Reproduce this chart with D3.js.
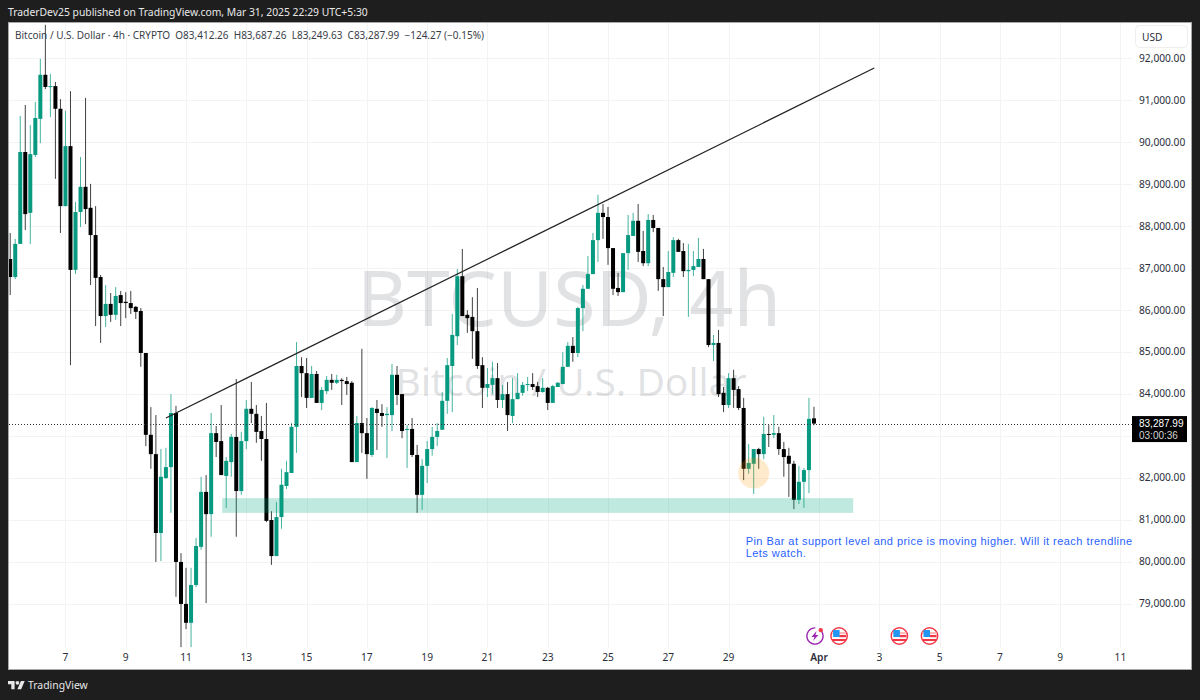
<!DOCTYPE html>
<html>
<head>
<meta charset="utf-8">
<title>BTCUSD 4h</title>
<script src="https://cdn.jsdelivr.net/npm/d3@7/dist/d3.min.js"></script>
<style>
  html, body { margin: 0; padding: 0; background: #1e1e1e; }
  svg { display: block; }
  text { font-family: "Noto Sans", "Open Sans", sans-serif; }
</style>
</head>
<body>
<svg id="chart" width="1200" height="700"></svg>
<script>
// 4h candles, oldest first
const firstBar = Date.UTC(2025, 2, 5, 4);
const opens = [
  87210,86780,87570,89760,88310,89690,90550,91600,91310,91330,
  90790,88470,89900,86950,88330,88930,88430,87780,86780,85850,
  86140,85880,86350,86190,86160,86070,85970,84970,83020,82560,
  80680,81990,82250,83540,79990,78990,78540,79440,80350,81660,
  81130,83060,82870,82040,82370,82970,81680,82870,83640,83520,
  83110,82920,80990,80130,81060,81800,82110,83210,84660,84490,
  83900,84470,83780,84060,84330,84260,84330,84300,84260,82370,
  83300,83060,82540,83640,83540,83490,83490,84450,83990,83140,
  83160,82540,81590,82280,82680,82970,83140,83830,84660,85370,
  86800,85880,85830,85490,84680,84140,84210,84370,83850,83990,
  83470,83870,84020,84210,84230,84180,84040,84140,83780,84160,
  84230,84640,85140,84970,86040,86500,86850,87660,88310,88210,
  87470,86520,86420,87350,87760,88120,87400,87110,88140,87950,
  86730,86540,86880,87660,87400,86920,86950,87020,87210,86730,
  85160,85210,84020,83730,84370,84110,83660,82210,82330,82680,
  82560,83040,83020,83060,82680,82520,82330,81470,81900,82180,83412.26
];
const highs = [
  87830,87690,90620,90880,90400,90950,91980,92790,91620,91430,
  91020,90740,91210,88570,89640,91050,89000,88470,86830,86590,
  86400,86540,86450,86420,86450,86090,86040,84970,83680,83490,
  82680,82710,83990,83710,80200,79850,79850,80560,82020,82060,
  83540,83230,83730,82490,83040,84350,83090,83850,84280,83730,
  83470,83780,81200,81420,82210,82400,83300,85230,84870,84850,
  84660,84540,84160,84420,84470,84450,84370,84400,84300,83470,
  85070,83420,83680,83850,83750,83680,84710,84660,83990,83250,
  83420,82780,82440,82870,83210,83300,84040,84850,85900,86970,
  87450,85990,86300,86520,84870,84610,84760,84730,84210,84280,
  84370,84490,84280,84400,84490,84280,84370,84160,84210,84280,
  84990,85230,85350,86070,86590,87280,87830,88740,88520,88450,
  87470,86880,87350,88260,88310,88520,87880,88280,88260,87950,
  87020,87400,87730,87690,87590,87570,87400,87710,87450,86730,
  85400,85520,84160,84490,84570,84180,83900,82800,82680,82710,
  83450,83250,83490,83210,82850,82710,82400,82280,82230,83900,83687.26
];
const lows = [
  86350,86730,87570,87900,87570,89640,89970,91260,90590,89120,
  87830,88470,84680,86850,87970,88040,86590,85610,85210,85590,
  85710,85760,85610,85800,85900,85780,84640,82750,82210,79990,
  80010,81970,81160,79160,77960,78390,77960,79390,80280,79010,
  80590,82490,82060,81280,82020,80590,81590,82680,83300,82830,
  82400,80940,79920,80130,80780,81730,82110,82590,83920,83660,
  83900,83780,83610,83990,84090,84230,83730,83970,82370,82370,
  82590,81970,82490,82660,83210,82470,83110,83730,82940,82230,
  82490,81160,81230,81870,82520,82750,83140,83520,83560,85160,
  85850,85450,84830,84590,83660,83920,83990,83660,83660,83110,
  83300,83870,83950,84060,84090,83920,84020,83610,83780,84160,
  84230,84640,84760,84870,85490,86500,86850,87140,87690,87070,
  86350,86330,86420,86950,87760,87140,87040,87040,87850,86450,
  85850,86540,86780,87380,86780,85830,86800,87020,86730,85110,
  84780,83920,83560,83660,83660,83610,81940,82090,81610,82210,
  82440,82730,82940,82540,82020,81540,81250,81370,81280,81630,83249.63
];
const closes = [
  86780,87570,89760,88280,89710,90570,91600,91310,91330,90790,
  88470,89900,86950,88330,88930,88400,87780,86760,85850,86140,
  85880,86330,86160,86160,86040,85950,84970,83020,82560,80680,
  82020,82250,83540,79990,78990,78540,79440,80370,81660,81130,
  83060,82850,82060,82400,82970,81680,82870,83640,83520,83090,
  82920,80970,80130,81060,81830,82130,83210,84660,84490,83900,
  84470,83780,84090,84330,84260,84330,84300,84230,82370,83300,
  83060,82560,83660,83540,83470,83520,84450,83970,83110,83160,
  82540,81590,82280,82680,82970,83110,83830,84680,85400,86800,
  85850,85800,85490,84660,84140,84230,84370,83850,83990,83490,
  83870,84020,84210,84230,84160,84040,84140,83780,84180,84260,
  84640,85140,84970,86040,86500,86850,87660,88310,88210,87470,
  86500,86420,87350,87780,88120,87380,87110,88140,87950,86730,
  86540,86900,87660,87380,86920,86950,87040,87210,86730,85160,
  85210,83990,83730,84370,84090,83660,82210,82350,82680,82560,
  83040,83020,83060,82680,82490,82330,81470,81900,82180,83400,83287.99
];

// Axis ticks
const priceTicks = [92000,91000,90000,89000,88000,87000,86000,85000,84000,83000,82000,81000,80000,79000];
const priceTickLabels = priceTicks.filter(p => p !== 83000);
const dateTicks = [
  [2,7],[2,9],[2,11],[2,13],[2,15],[2,17],[2,19],[2,21],[2,23],[2,25],[2,27],[2,29],
  [3,1],[3,3],[3,5],[3,7],[3,9],[3,11]
].map(([m, d]) => new Date(Date.UTC(2025, m, d)));

// Drawings, placed in bar index and price
const trendBars = [31, 172];
const trendPrices = [83420, 91760];
const zoneBars = [42.2, 167.8];
const zonePrices = [81510, 81160];
const pinBar = 148, pinPrice = 82110;
const noteBar = 146.4, notePrice = 80400;
const noteLines = [
  "Pin Bar at support level and price is moving higher. Will it reach trendline",
  "Lets watch."
];
const earningsBars = [160];
const usFlagBars = [165, 177, 183];
const lastPrice = 83287.99;

const TEAL = "#089981", BLACK = "#000000";
const plot = { left: 9, right: 1132, top: 23, bottom: 648 };
const TIGHT_FONT = '"Liberation Sans", sans-serif';

const barTime = i => new Date(firstBar + i * 4 * 3600 * 1000);
const x = d3.scaleUtc().domain([barTime(0), barTime(161)]).range([10.2, 819]);
const y = d3.scaleLinear().domain([79000, 92000]).range([603.5, 58]);
const xBar = i => x(barTime(i));

const svg = d3.select("#chart");
svg.append("defs").append("clipPath").attr("id", "plot-clip").append("rect")
  .attr("x", plot.left).attr("y", plot.top)
  .attr("width", plot.right - plot.left).attr("height", plot.bottom - plot.top);

// Frame
svg.append("rect").attr("width", 1200).attr("height", 700).attr("fill", "#1e1e1e");
svg.append("rect").attr("x", 8.5).attr("y", 22.5).attr("width", 1183).attr("height", 647)
  .attr("fill", "#ffffff").attr("stroke", "#a8a8a8");

svg.append("text").attr("x", 8).attr("y", 16).attr("fill", "#e8e8e8").attr("font-size", 10.35)
  .text("TraderDev25 published on TradingView.com, Mar 31, 2025 22:29 UTC+5:30");

// Grid
const grid = svg.append("g").attr("stroke", "#f3f3f4").attr("stroke-width", 1);
grid.selectAll("line.h").data(priceTicks).join("line").attr("class", "h")
  .attr("x1", plot.left).attr("x2", plot.right)
  .attr("y1", d => Math.round(y(d)) + .5).attr("y2", d => Math.round(y(d)) + .5);
grid.selectAll("line.v").data(dateTicks).join("line").attr("class", "v")
  .attr("y1", plot.top).attr("y2", plot.bottom)
  .attr("x1", d => Math.round(x(d)) + .5).attr("x2", d => Math.round(x(d)) + .5);

// Symbol watermark
const mark = svg.append("g").attr("fill", "#787b86").attr("fill-opacity", .22).attr("text-anchor", "middle");
mark.append("text").attr("x", 569).attr("y", 326).attr("font-size", 77).text("BTCUSD, 4h");
mark.append("text").attr("x", 571).attr("y", 396).attr("font-size", 39).text("Bitcoin / U.S. Dollar");

// Candles
const plotArea = svg.append("g").attr("clip-path", "url(#plot-clip)");
const candles = plotArea.append("g").selectAll("g").data(d3.range(opens.length)).join("g")
  .attr("fill", i => closes[i] >= opens[i] ? TEAL : BLACK)
  .attr("stroke", i => closes[i] >= opens[i] ? TEAL : BLACK);
candles.append("line")
  .attr("x1", xBar).attr("x2", xBar)
  .attr("y1", i => y(highs[i])).attr("y2", i => y(lows[i]))
  .attr("stroke-width", 1).attr("stroke-opacity", .75);
candles.append("rect")
  .attr("stroke", "none")
  .attr("x", i => xBar(i) - 2).attr("width", 4)
  .attr("y", i => y(Math.max(opens[i], closes[i])))
  .attr("height", i => Math.max(1, Math.abs(y(opens[i]) - y(closes[i]))));

// Last price line
plotArea.append("line").attr("x1", plot.left).attr("x2", plot.right)
  .attr("y1", Math.round(y(lastPrice)) + .5).attr("y2", Math.round(y(lastPrice)) + .5)
  .attr("stroke", "#333").attr("stroke-dasharray", "1 2");

// Support zone, pin bar marker and trendline
plotArea.append("rect")
  .attr("x", xBar(zoneBars[0])).attr("width", xBar(zoneBars[1]) - xBar(zoneBars[0]))
  .attr("y", y(zonePrices[0])).attr("height", y(zonePrices[1]) - y(zonePrices[0]))
  .attr("fill", "#00a67d").attr("fill-opacity", .25);
plotArea.append("circle").attr("cx", xBar(pinBar)).attr("cy", y(pinPrice)).attr("r", 15.5)
  .attr("fill", "#ff9800").attr("fill-opacity", .2);
plotArea.append("line")
  .attr("x1", xBar(trendBars[0])).attr("y1", y(trendPrices[0]))
  .attr("x2", xBar(trendBars[1])).attr("y2", y(trendPrices[1]))
  .attr("stroke", "#222").attr("stroke-width", 1.2);

// Note
plotArea.selectAll("text.note").data(noteLines).join("text").attr("class", "note")
  .attr("x", xBar(noteBar))
  .attr("y", (d, i) => y(notePrice) + i * 12.7)
  .attr("fill", "#2962ff").attr("font-size", 11).attr("letter-spacing", .45)
  .style("font-family", TIGHT_FONT)
  .text(d => d);

// Economic event icons
const eventY = 636;
const flags = svg.append("g").selectAll("g").data(usFlagBars).join("g")
  .attr("transform", d => `translate(${xBar(d)},${eventY})`);
flags.append("circle").attr("r", 8.2).attr("fill", "#fff").attr("stroke", "#f23645").attr("stroke-width", 1.4);
flags.append("rect").attr("x", -7).attr("y", -4).attr("width", 14).attr("height", 2.2).attr("fill", "#fbb");
flags.append("rect").attr("x", 0).attr("y", -1).attr("width", 7).attr("height", 2.2).attr("fill", "#f23645");
flags.append("rect").attr("x", -7).attr("y", 3).attr("width", 14).attr("height", 2).attr("fill", "#f23645");
flags.append("rect").attr("x", -6).attr("y", -6).attr("width", 6.5).attr("height", 7).attr("fill", "#2196f3");
const earn = svg.append("g").selectAll("g").data(earningsBars).join("g")
  .attr("transform", d => `translate(${xBar(d) + 1},${eventY})`);
earn.append("path").attr("d", d3.arc()({ innerRadius: 7.4, outerRadius: 8.8, startAngle: .55, endAngle: 2 * Math.PI + .05 }))
  .attr("fill", "#9c27b0");
earn.append("path").attr("d", "M1.5,-5 L-3.5,1 L-0.5,1 L-2,5 L3.5,-1 L0.5,-1 Z").attr("fill", "#9c27b0");
earn.append("circle").attr("cx", 5.8).attr("cy", -5.8).attr("r", 2.1).attr("fill", "#f23645");

// Axes
const xAxis = d3.axisBottom(x).tickValues(dateTicks).tickSize(0).tickPadding(0)
  .tickFormat(d => d.getUTCDate() === 1 ? "Apr" : String(d.getUTCDate()));
const xG = svg.append("g").attr("transform", "translate(-0.5,655.5)").call(xAxis);
xG.select(".domain").remove();
xG.selectAll("text").attr("font-size", 10.2).attr("fill", "#2a2e39").attr("dy", ".55em")
  .attr("font-weight", d => d.getUTCDate() === 1 ? 600 : 400)
  .style("font-family", '"Noto Sans", sans-serif');

const yAxis = d3.axisRight(y).tickValues(priceTickLabels).tickSize(0).tickPadding(0)
  .tickFormat(d3.format(",.2f"));
const yG = svg.append("g").attr("transform", "translate(1139,0)").call(yAxis);
yG.select(".domain").remove();
yG.selectAll("text").attr("font-size", 10.2).attr("fill", "#2a2e39")
  .style("font-family", '"Noto Sans", sans-serif');

// Currency button
svg.append("rect").attr("x", 1135.5).attr("y", 25.5).attr("width", 52).attr("height", 22).attr("rx", 4)
  .attr("fill", "#fff").attr("stroke", "#eeeeee");
svg.append("text").attr("x", 1142).attr("y", 41).attr("font-size", 10.2).attr("fill", "#2a2e39").text("USD");

// Last price tag
const tagY = y(lastPrice);
svg.append("rect").attr("x", 1132).attr("y", tagY - 7.5).attr("width", 55).attr("height", 26).attr("fill", "#000");
svg.append("text").attr("x", 1139).attr("y", tagY + 3).attr("font-size", 10).attr("fill", "#fff")
  .style("font-family", TIGHT_FONT).text(d3.format(",.2f")(lastPrice));
svg.append("text").attr("x", 1139).attr("y", tagY + 15).attr("font-size", 10).attr("fill", "#d6d6d6")
  .style("font-family", TIGHT_FONT).text("03:00:36");

// Legend
const legend = svg.append("text").attr("x", 15).attr("y", 39).attr("font-size", 10).attr("fill", "#3a3e49")
  .attr("xml:space", "preserve");
legend.text("Bitcoin / U.S. Dollar · 4h · CRYPTO  O83,412.26  H83,687.26  L83,249.63  C83,287.99  −124.27 (−0.15%)");

// Footer brand
svg.append("path").attr("transform", "translate(8,679) scale(.47)")
  .attr("d", "M14 22H7V11H0V4h14v18zM28 22h-8l7.5-18h8L28 22z").attr("fill", "#e8e8e8");
svg.append("circle").attr("cx", 8 + 20 * .47).attr("cy", 679 + 8 * .47).attr("r", 4 * .47).attr("fill", "#e8e8e8");
svg.append("text").attr("x", 28).attr("y", 689).attr("font-size", 10.4).attr("fill", "#e8e8e8").text("TradingView");
</script>
</body>
</html>
